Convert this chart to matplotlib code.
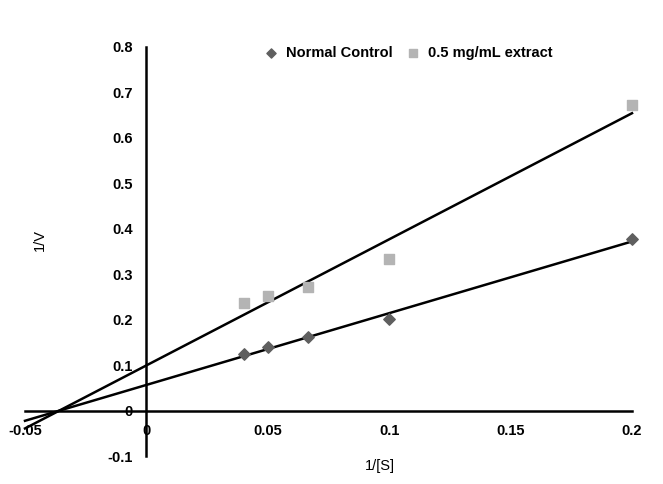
import matplotlib
matplotlib.use('Agg')
import matplotlib.pyplot as plt
import numpy as np

# 1/[S] and 1/V values
inv_s = [0.04, 0.05, 0.0667, 0.1, 0.2]
normal_control = [0.125, 0.139, 0.161, 0.201, 0.377]
extract_05 = [0.236, 0.251, 0.272, 0.333, 0.672]

plt.rcParams['font.family'] = ['Liberation Sans', 'DejaVu Sans']

fig = plt.figure(figsize=(6.63, 4.84), dpi=100)
ax = fig.add_axes([25/663, 1-456/484, (632-25)/663, (456-47)/484])

ax.scatter(inv_s, normal_control, marker='D', s=34, color='#5f5f5f',
           label='Normal Control', zorder=3, clip_on=False)
ax.scatter(inv_s, extract_05, marker='s', s=55, color='#b4b4b4',
           label='0.5 mg/mL extract', zorder=3, clip_on=False)

# linear trendlines, extended back to x = -0.05
xs = np.array([-0.05, 0.2])
for ys in (normal_control, extract_05):
    m, b = np.polyfit(inv_s, ys, 1)
    ax.plot(xs, m*xs + b, color='black', lw=1.8, zorder=2, clip_on=False)

ax.set_xlim(-0.05, 0.2)
ax.set_ylim(-0.1, 0.8)
ax.set_xticks([-0.05, 0, 0.05, 0.1, 0.15, 0.2])
ax.set_xticklabels(['-0.05', '0', '0.05', '0.1', '0.15', '0.2'])
ax.set_yticks([-0.1, 0, 0.1, 0.2, 0.3, 0.4, 0.5, 0.6, 0.7, 0.8])
ax.set_yticklabels(['-0.1', '0', '0.1', '0.2', '0.3', '0.4', '0.5', '0.6', '0.7', '0.8'])

ax.spines['left'].set_position(('data', 0))
ax.spines['bottom'].set_position(('data', 0))
ax.spines['right'].set_visible(False)
ax.spines['top'].set_visible(False)
ax.spines['left'].set_linewidth(1.8)
ax.spines['bottom'].set_linewidth(1.8)
ax.tick_params(length=0, labelsize=10.5)
ax.tick_params(axis='x', pad=10)
ax.tick_params(axis='y', pad=10)
for lab in ax.get_xticklabels() + ax.get_yticklabels():
    lab.set_fontweight('bold')
ax.patch.set_visible(False)

fig.text(40/663, 1-240/484, '1/V', rotation=90, ha='center', va='center', fontsize=10.5)
fig.text(380/663, 1-466/484, '1/[S]', ha='center', va='center', fontsize=10.5)

ax.legend(loc='upper center', bbox_to_anchor=(0.625, 1.035), ncol=2, frameon=False,
          prop={'weight': 'bold', 'size': 10.5}, handletextpad=0.0, columnspacing=0.4,
          markerscale=0.8)

fig.savefig('out.png', dpi=100)
